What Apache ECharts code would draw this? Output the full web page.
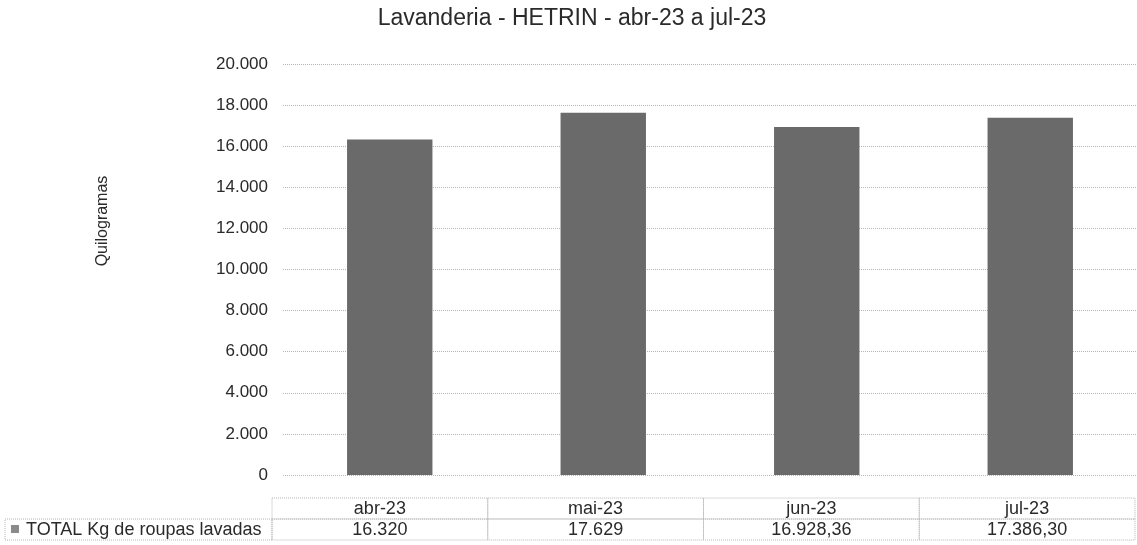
<!DOCTYPE html>
<html>
<head>
<meta charset="utf-8">
<script src="https://cdn.jsdelivr.net/npm/echarts@6/dist/echarts.min.js"></script>
<style>
html,body{margin:0;padding:0;background:#fff;}
#chart{width:1137px;height:545px;}
</style>
</head>
<body>
<div id="chart"></div>
<script>
const titleText = 'Lavanderia - HETRIN - abr-23 a jul-23';
const yAxisName = 'Quilogramas';
const seriesName = 'TOTAL Kg de roupas lavadas';
const months = ['abr-23', 'mai-23', 'jun-23', 'jul-23'];
const values = [16320, 17629, 16928.36, 17386.30];
const yMin = 0, yMax = 20000, yStep = 2000;

const FONT = '"Liberation Sans", Arial, sans-serif';
const TXT = '#2a2a2a';
const LINE = '#b5b5b5';
const BAR = '#6a6a6a';

function fmtBR(v) {
  const isInt = Math.abs(v - Math.round(v)) < 1e-9;
  const s = isInt ? String(Math.round(v)) : v.toFixed(2);
  const parts = s.split('.');
  const intPart = parts[0].replace(/\B(?=(\d{3})+(?!\d))/g, '.');
  return parts.length > 1 ? intPart + ',' + parts[1] : intPart;
}

const chart = echarts.init(document.getElementById('chart'));
chart.setOption({
  backgroundColor: '#fff',
  animation: false,
  title: {
    text: titleText, left: 567, top: 2, textAlign: 'center',
    textStyle: { fontFamily: FONT, fontSize: 23, fontWeight: 'normal', color: TXT }
  },
  grid: [
    { left: 283, right: 0, top: 64, bottom: 70 },
    { left: 272, right: 2, top: 498, height: 42 }
  ],
  xAxis: [
    { type: 'category', gridIndex: 0, data: months,
      axisLine: { show: false }, axisTick: { show: false }, axisLabel: { show: false } },
    { type: 'category', gridIndex: 1, data: months, show: false }
  ],
  yAxis: [
    { type: 'value', gridIndex: 0, min: yMin, max: yMax, interval: yStep,
      axisLine: { show: false }, axisTick: { show: false },
      axisLabel: { fontFamily: FONT, fontSize: 17, color: TXT, margin: 15, formatter: v => fmtBR(v) },
      splitLine: { lineStyle: { color: LINE, type: 'dotted', width: 1 } } },
    { type: 'category', gridIndex: 1, data: ['val', 'hdr'], show: false }
  ],
  series: [
    { type: 'bar', name: seriesName, xAxisIndex: 0, yAxisIndex: 0, data: values,
      barCategoryGap: '60%', itemStyle: { color: BAR } },
    { type: 'custom', xAxisIndex: 1, yAxisIndex: 1, silent: true,
      data: months.map((m, i) => [i, 1]),
      renderItem: function (params, api) {
        const i = api.value(0);
        const sz = api.size([1, 1]);
        const ch = api.coord([i, 1]);
        const cv = api.coord([i, 0]);
        const w = sz[0], h = sz[1];
        const border = { stroke: LINE, fill: null, lineWidth: 1, lineDash: [1, 1] };
        return { type: 'group', children: [
          { type: 'rect', shape: { x: ch[0] - w / 2, y: ch[1] - h / 2, width: w, height: h }, style: border },
          { type: 'rect', shape: { x: cv[0] - w / 2, y: cv[1] - h / 2, width: w, height: h }, style: border },
          { type: 'text', x: ch[0], y: ch[1] + 1, style: { text: months[params.dataIndex], fontFamily: FONT, fontSize: 18, fill: TXT, align: 'center', verticalAlign: 'middle' } },
          { type: 'text', x: cv[0], y: cv[1] + 1, style: { text: fmtBR(values[params.dataIndex]), fontFamily: FONT, fontSize: 18, fill: TXT, align: 'center', verticalAlign: 'middle' } }
        ]};
      }
    }
  ],
  graphic: [
    { type: 'text', x: 103, y: 221, rotation: Math.PI / 2,
      style: { text: yAxisName, fontFamily: FONT, fontSize: 16, fill: TXT, align: 'center', verticalAlign: 'middle' } },
    { type: 'rect', shape: { x: 5, y: 519, width: 267, height: 21 },
      style: { stroke: LINE, fill: null, lineWidth: 1, lineDash: [1, 1] } },
    { type: 'rect', shape: { x: 11, y: 525, width: 8, height: 8 }, style: { fill: '#8a8a8a' } },
    { type: 'text', x: 26, y: 530, style: { text: seriesName, fontFamily: FONT, fontSize: 18, fill: TXT, verticalAlign: 'middle' } }
  ]
});
</script>
</body>
</html>
